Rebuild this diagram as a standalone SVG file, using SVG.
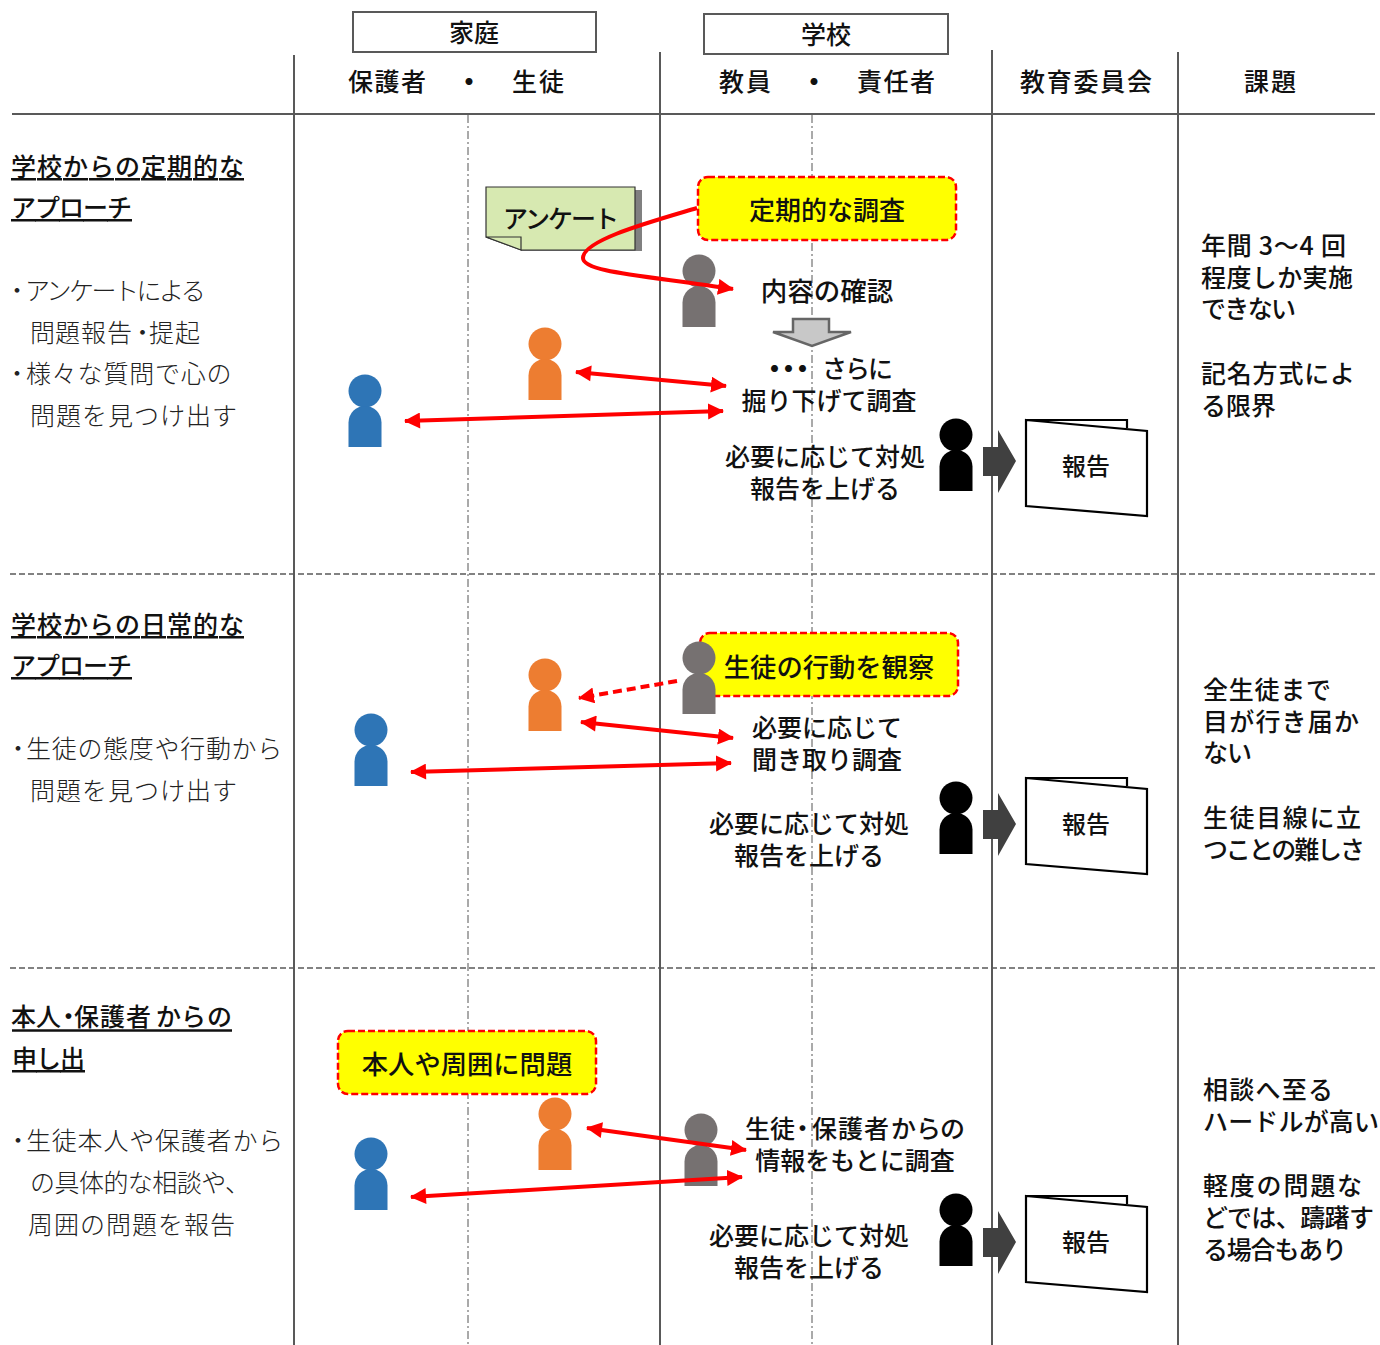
<svg xmlns="http://www.w3.org/2000/svg" width="1380" height="1345" viewBox="0 0 1380 1345">
<style>
text{font-family:"Noto Sans CJK JP","Liberation Sans",sans-serif;font-size:25px;font-weight:500;fill:#111}
.m{text-anchor:middle}
.h{text-decoration:underline;text-decoration-thickness:2.5px;text-underline-offset:3px}
.l{fill:#222;font-weight:300}
.b{font-weight:900}
.grid{stroke:#595959;stroke-width:2;fill:none}
.dash{stroke:#595959;stroke-width:1.6;stroke-dasharray:6 3;fill:none}
.dd{stroke:#555;stroke-width:1;stroke-dasharray:8 3 2 3;fill:none}
.hdr{fill:#fff;stroke:#595959;stroke-width:2}
.call{fill:#ff0;stroke:#f00;stroke-width:2.5;stroke-dasharray:7 3}
.arr{stroke:#f00;stroke-width:4;fill:none;marker-end:url(#ah)}
.two{marker-start:url(#ahs)}
.doc{fill:#fff;stroke:#000;stroke-width:2.2}
.go{fill:#404040}
.blue{fill:#2e75b6}.orange{fill:#ed7d31}.gray{fill:#767171}.black{fill:#000}
.rep{font-size:24px}
.big{font-size:26.3px}
</style>
<defs>
<marker id="ah" markerUnits="userSpaceOnUse" markerWidth="18" markerHeight="18" refX="15" refY="8" orient="auto"><path d="M0,0L16,8L0,16Z" fill="#f00"/></marker>
<marker id="ahs" markerUnits="userSpaceOnUse" markerWidth="18" markerHeight="18" refX="1" refY="8" orient="auto"><path d="M16,0L0,8L16,16Z" fill="#f00"/></marker>
<symbol id="person" overflow="visible"><circle cx="0" cy="0" r="16.5"/><path d="M-16.5,56V31.5A16.5,16.5 0 0 1 16.5,31.5V56Z"/></symbol>
<g id="goArrow"><path class="go" d="M983,447H998V430L1016,461L998,493V476H983Z"/></g>
</defs>
<g id="grid">
<path class="dd" d="M468,115V1345M812,115V1345"/>
<path class="grid" d="M12,114H1375M294,55V1345M660,52V1345M992,50V1345M1178,52V1345"/>
<path class="dash" d="M10,574H1375M10,968H1375"/>
</g>
<g id="hdr-home"><rect class="hdr" x="353" y="12" width="243" height="40"/><text class="m" x="474" y="42">家庭</text></g>
<g id="hdr-school"><rect class="hdr" x="704" y="14" width="244" height="40"/><text class="m" x="826" y="44">学校</text></g>
<g id="col-heads">
<text x="348" y="91" textLength="78">保護者</text><text class="m b" x="469" y="91">・</text><text x="512" y="91" textLength="52">生徒</text>
<text x="719" y="91" textLength="52">教員</text><text class="m b" x="814" y="91">・</text><text x="857" y="91" textLength="78">責任者</text>
<text x="1020" y="91" textLength="132">教育委員会</text><text x="1244" y="91" textLength="52">課題</text>
</g>
<g id="left-1">
<text class="h" x="11" y="176" textLength="233">学校からの定期的な</text>
<text class="h" x="11" y="217" textLength="121">アプローチ</text>
<text class="l" x="4.5" y="300">・<tspan x="25" letter-spacing="-2.5">アンケートによる</tspan></text>
<text class="l" x="30 55 81 107 130 149 175" y="342">問題報告・提起</text>
<text class="l" x="4.5" y="383">・<tspan x="26" letter-spacing="0.8">様々な質問で心の</tspan></text>
<text class="l" x="30" y="425" textLength="207">問題を見つけ出す</text>
</g>
<g id="left-2">
<text class="h" x="11" y="634" textLength="233">学校からの日常的な</text>
<text class="h" x="11" y="675" textLength="121">アプローチ</text>
<text class="l" x="5.5" y="758">・<tspan x="26" letter-spacing="0.7">生徒の態度や行動から</tspan></text>
<text class="l" x="30" y="800" textLength="207">問題を見つけ出す</text>
</g>
<g id="left-3">
<text x="11 36 56 74 100 126 156 181 207" y="1026">本人・保護者からの</text>
<path d="M12,1030.5H232" stroke="#111" stroke-width="2.5" fill="none"/>
<text class="h" x="12" y="1068" textLength="73">申し出</text>
<text class="l" x="5.5" y="1150">・<tspan x="26" letter-spacing="0.8">生徒本人や保護者から</tspan></text>
<text class="l" x="30" y="1192" textLength="220">の具体的な相談や、</text>
<text class="l" x="28" y="1234" textLength="207">周囲の問題を報告</text>
</g>
<g id="survey-note">
<path fill="#808080" d="M493,190H642V251H521V240H493Z"/>
<path fill="#d7e9b1" stroke="#333" stroke-width="1.2" d="M486,187H635V250H521L486,237Z"/>
<path fill="#d7e9b1" stroke="#333" stroke-width="1.2" d="M486,237H521V250Z"/>
<text x="503" y="228" textLength="116">アンケート</text>
</g>
<g id="box-regular"><rect class="call" x="698" y="177" width="258" height="63" rx="10"/><text class="m" style="font-size:26px" x="827" y="220">定期的な調査</text></g>
<g id="box-observe"><rect class="call" x="700" y="633" width="258" height="63" rx="10"/><text class="m big" x="829" y="677">生徒の行動を観察</text></g>
<g id="box-issue"><rect class="call" x="338" y="1031" width="258" height="63" rx="10"/><text class="m big" x="467" y="1074">本人や周囲に問題</text></g>
<g id="s1-blue"><use href="#person" x="365" y="391" class="blue"/></g>
<g id="s1-orange"><use href="#person" x="545" y="344" class="orange"/></g>
<g id="s1-gray"><use href="#person" x="699" y="271" class="gray"/></g>
<g id="s1-black"><use href="#person" x="956" y="435" class="black"/></g>
<g id="s2-blue"><use href="#person" x="371" y="730" class="blue"/></g>
<g id="s2-orange"><use href="#person" x="545" y="675" class="orange"/></g>
<g id="s2-gray"><use href="#person" x="699" y="658" class="gray"/></g>
<g id="s2-black"><use href="#person" x="956" y="798" class="black"/></g>
<g id="s3-blue"><use href="#person" x="371" y="1154" class="blue"/></g>
<g id="s3-orange"><use href="#person" x="555" y="1114" class="orange"/></g>
<g id="s3-gray"><use href="#person" x="701" y="1130" class="gray"/></g>
<g id="s3-black"><use href="#person" x="956" y="1210" class="black"/></g>
<g id="step-1">
<text class="m" style="font-size:26.5px" x="827" y="301">内容の確認</text>
<path fill="#c8c8c8" stroke="#666" stroke-width="2.5" d="M793,319H829V332H851L812,346L773,332H793Z"/>
<text class="b" x="762" y="378" letter-spacing="-11">・・・<tspan x="822" letter-spacing="-2" font-weight="500">さらに</tspan></text>
<text class="m" x="829" y="410">掘り下げて調査</text>
<text class="m" x="825" y="466">必要に応じて対処</text>
<text class="m" x="825" y="498">報告を上げる</text>
</g>
<g id="step-2">
<text class="m" x="827" y="737">必要に応じて</text>
<text class="m" x="827" y="769">聞き取り調査</text>
<text class="m" x="809" y="833">必要に応じて対処</text>
<text class="m" x="809" y="865">報告を上げる</text>
</g>
<g id="step-3">
<text x="745 770 790 812 838 864 891 916 940" y="1138">生徒・保護者からの</text>
<text class="m" x="855" y="1170">情報をもとに調査</text>
<text class="m" x="809" y="1245">必要に応じて対処</text>
<text class="m" x="809" y="1277">報告を上げる</text>
</g>
<g id="report-1"><use href="#goArrow"/><path class="doc" d="M1026,420H1127V428"/><path class="doc" d="M1026,420L1147,431V516L1026,506Z"/><text class="m rep" x="1086" y="475">報告</text></g>
<g id="report-2"><use href="#goArrow" y="363"/><path class="doc" d="M1026,778H1127V786"/><path class="doc" d="M1026,778L1147,789V874L1026,864Z"/><text class="m rep" x="1086" y="833">報告</text></g>
<g id="report-3"><use href="#goArrow" y="781"/><path class="doc" d="M1026,1196H1127V1204"/><path class="doc" d="M1026,1196L1147,1207V1292L1026,1282Z"/><text class="m rep" x="1086" y="1251">報告</text></g>
<g id="issues-1">
<text x="1201" y="255" textLength="145">年間 3～4 回</text>
<text x="1201" y="287" textLength="152">程度しか実施</text>
<text x="1201" y="318" textLength="95">できない</text>
<text x="1201" y="383" textLength="154">記名方式によ</text>
<text x="1201" y="415" textLength="75">る限界</text>
</g>
<g id="issues-2">
<text x="1203" y="699" textLength="128">全生徒まで</text>
<text x="1203" y="731" textLength="156">目が行き届か</text>
<text x="1203" y="762" textLength="49">ない</text>
<text x="1203" y="827" textLength="158">生徒目線に立</text>
<text x="1203" y="859" textLength="162">つことの難しさ</text>
</g>
<g id="issues-3">
<text x="1203" y="1099" textLength="130">相談へ至る</text>
<text x="1203" y="1131" textLength="176">ハードルが高い</text>
<text x="1203" y="1195" textLength="159">軽度の問題な</text>
<text x="1203" y="1227" textLength="171">どでは、躊躇す</text>
<text x="1203" y="1259" textLength="144">る場合もあり</text>
</g>
<g id="connectors">
<path class="arr" d="M697,208C650,222 583,240 583,258C583,272 640,275 733,289"/>
<path class="arr two" d="M576,372L726,386"/>
<path class="arr two" d="M405,421L723,411"/>
<path class="arr" style="stroke-dasharray:9 5" d="M677,681L579,698"/>
<path class="arr two" d="M581,722L733,738"/>
<path class="arr two" d="M411,772L731,763"/>
<path class="arr two" d="M587,1128L746,1150"/>
<path class="arr two" d="M411,1197L742,1177"/>
</g>
</svg>
